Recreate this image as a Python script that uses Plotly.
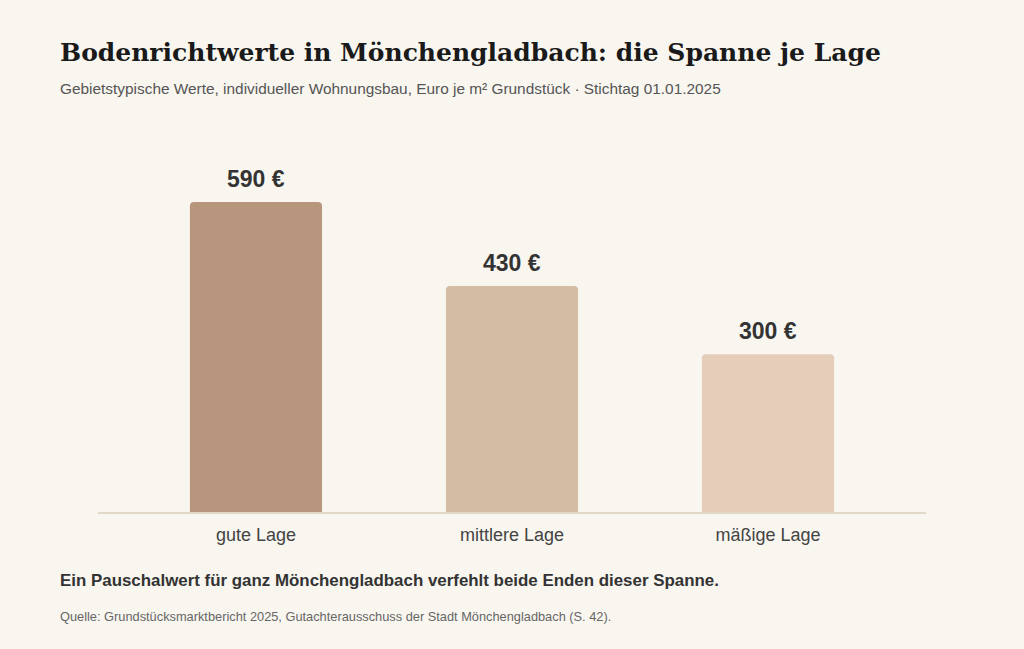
import plotly.graph_objects as go

categories = ["gute Lage", "mittlere Lage", "mäßige Lage"]
values = [590, 430, 300]
value_labels = ["590 €", "430 €", "300 €"]
colors = ["#b8967e", "#d4bba4", "#e5cdb9"]

BG = "#f9f6f0"
SANS = "Liberation Sans, Arial, sans-serif"
SERIF = "DejaVu Serif, Georgia, serif"

fig = go.Figure()
fig.add_trace(go.Bar(
    x=categories, y=values, marker=dict(color=colors, line=dict(width=0)),
    width=0.516, hoverinfo="skip",
))

for c, v, t in zip(categories, values, value_labels):
    fig.add_annotation(x=c, y=v, text=f"<b>{t}</b>", showarrow=False,
                       yanchor="bottom", yshift=8,
                       font=dict(family=SANS, size=23, color="#333333"))

W, H = 1024, 649
fig.update_layout(
    width=W, height=H,
    paper_bgcolor=BG, plot_bgcolor=BG,
    margin=dict(l=98, r=98, t=140, b=137),
    barcornerradius=4,
    showlegend=False,
    xaxis=dict(range=[-0.617, 2.617], showgrid=False, zeroline=False,
               showline=True, linecolor="#e2d8c8", linewidth=2,
               ticks="", ticklabelstandoff=5,
               tickfont=dict(family=SANS, size=18, color="#444444"),
               fixedrange=True),
    yaxis=dict(range=[0, 708], visible=False, fixedrange=True),
)

LX = (58 - 98) / 828
fig.add_annotation(xref="paper", yref="paper", x=LX, y=1 + (140 - 52) / 372,
                   xanchor="left", yanchor="middle", showarrow=False,
                   text="<b>Bodenrichtwerte in Mönchengladbach: die Spanne je Lage</b>",
                   font=dict(family=SERIF, size=25, color="#1a1a1a"))
fig.add_annotation(xref="paper", yref="paper", x=LX, y=1 + (140 - 88) / 372,
                   xanchor="left", yanchor="middle", showarrow=False,
                   text="Gebietstypische Werte, individueller Wohnungsbau, Euro je m² Grundstück · Stichtag 01.01.2025",
                   font=dict(family=SANS, size=15.4, color="#555555"))
fig.add_annotation(xref="paper", yref="paper", x=LX, y=-(580 - 512) / 372,
                   xanchor="left", yanchor="middle", showarrow=False,
                   text="<b>Ein Pauschalwert für ganz Mönchengladbach verfehlt beide Enden dieser Spanne.</b>",
                   font=dict(family=SANS, size=16.9, color="#333333"))
fig.add_annotation(xref="paper", yref="paper", x=LX, y=-(616 - 512) / 372,
                   xanchor="left", yanchor="middle", showarrow=False,
                   text="Quelle: Grundstücksmarktbericht 2025, Gutachterausschuss der Stadt Mönchengladbach (S. 42).",
                   font=dict(family=SANS, size=12.8, color="#666666"))

fig.write_html("out.html", config={"displayModeBar": False})
